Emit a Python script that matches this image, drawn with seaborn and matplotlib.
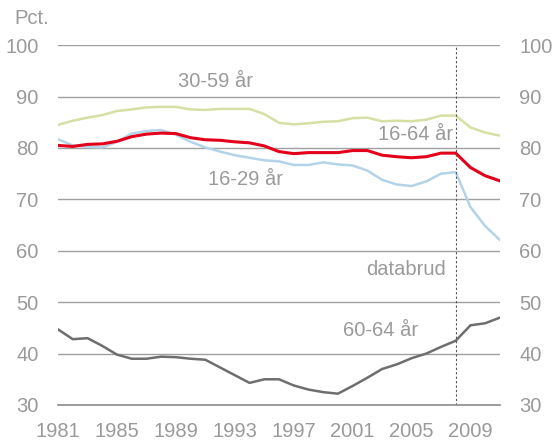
import pandas as pd
import numpy as np
import seaborn as sns
import matplotlib.pyplot as plt

# Years and series (pct.)
years = list(range(1981, 2012))
age_16_64 = [80.5, 80.3, 80.7, 80.8, 81.3, 82.2, 82.7, 82.9, 82.8, 82.0, 81.6, 81.5, 81.2, 81.0, 80.4,
             79.3, 78.9, 79.1, 79.1, 79.1, 79.5, 79.5, 78.6, 78.3, 78.1, 78.3, 79.0, 79.0, 76.2, 74.6, 73.6]
age_30_59 = [84.5, 85.3, 85.9, 86.4, 87.2, 87.5, 87.9, 88.0, 88.0, 87.5, 87.4, 87.6, 87.6, 87.6, 86.6,
             84.9, 84.6, 84.8, 85.1, 85.2, 85.8, 85.9, 85.2, 85.3, 85.2, 85.5, 86.3, 86.3, 84.0, 83.0, 82.4]
age_16_29 = [81.7, 80.5, 80.2, 80.1, 81.2, 82.8, 83.3, 83.5, 82.6, 81.2, 80.1, 79.3, 78.6, 78.1, 77.6,
             77.4, 76.7, 76.7, 77.2, 76.8, 76.6, 75.6, 73.8, 72.9, 72.6, 73.5, 75.0, 75.3, 68.5, 64.8, 62.1]
age_60_64 = [44.7, 42.8, 43.0, 41.5, 39.8, 39.0, 39.0, 39.4, 39.3, 39.0, 38.8, 37.3, 35.8, 34.3, 35.0,
             35.0, 33.8, 33.0, 32.5, 32.2, 33.7, 35.3, 37.0, 37.9, 39.1, 40.0, 41.3, 42.5, 45.5, 45.9, 47.0]
break_year = 2008
tick_years = [1981, 1985, 1989, 1993, 1997, 2001, 2005, 2009]

df = pd.DataFrame({'year': years, '16-64 år': age_16_64, '30-59 år': age_30_59,
                   '16-29 år': age_16_29, '60-64 år': age_60_64})
long = df.melt(id_vars='year', var_name='gruppe', value_name='pct')

sns.set_style('white')
plt.rcParams['font.family'] = ['Liberation Sans', 'DejaVu Sans']
grey = '#9a9a9a'

fig = plt.figure(figsize=(5.53, 4.43), dpi=100)
ax = fig.add_axes([0.105, 0.0858, 0.799, 0.8122])

colors = {'30-59 år': '#d4e0a4', '16-29 år': '#b3d4e8', '16-64 år': '#e3001b', '60-64 år': '#6e6e6e'}
for g in ['30-59 år', '16-29 år', '16-64 år', '60-64 år']:
    sns.lineplot(data=long[long.gruppe == g], x='year', y='pct', color=colors[g],
                 linewidth=2.2 if g == '16-64 år' else 1.8, ax=ax, legend=False)

ax.set_xlim(1981, 2011)
ax.set_ylim(30, 100)
ax.set_yticks(range(30, 101, 10))
ax.set_xticks(tick_years)
ax.grid(axis='y', color='#a0a0a0', linewidth=1)
ax.set_axisbelow(True)
for s in ['top', 'right', 'left']:
    ax.spines[s].set_visible(False)
ax.spines['bottom'].set_color('#8c8c8c')
ax.spines['bottom'].set_linewidth(1.2)
ax.tick_params(axis='x', colors='#8c8c8c', length=6, width=1, direction='out', labelcolor=grey,
               labelsize=14.5, pad=6)
ax.tick_params(axis='y', length=0, labelcolor=grey, labelsize=14.5, pad=14,
               labelright=True, right=False)
ax.set_xlabel('')
ax.set_ylabel('')

ax.axvline(break_year, color='#555555', linestyle=(0, (2, 2)), linewidth=0.8)

lab = dict(color=grey, fontsize=14.5, ha='center', va='center')
ax.text(1991.7, 92.9, '30-59 år', **lab)
ax.text(2005.3, 82.6, '16-64 år', **lab)
ax.text(1993.7, 73.8, '16-29 år', **lab)
ax.text(2004.6, 56.3, 'databrud', **lab)
ax.text(2002.9, 44.4, '60-64 år', **lab)
fig.text(0.058, 0.958, 'Pct.', color=grey, fontsize=14.5, ha='center', va='center')

fig.savefig('out.png', dpi=100)
